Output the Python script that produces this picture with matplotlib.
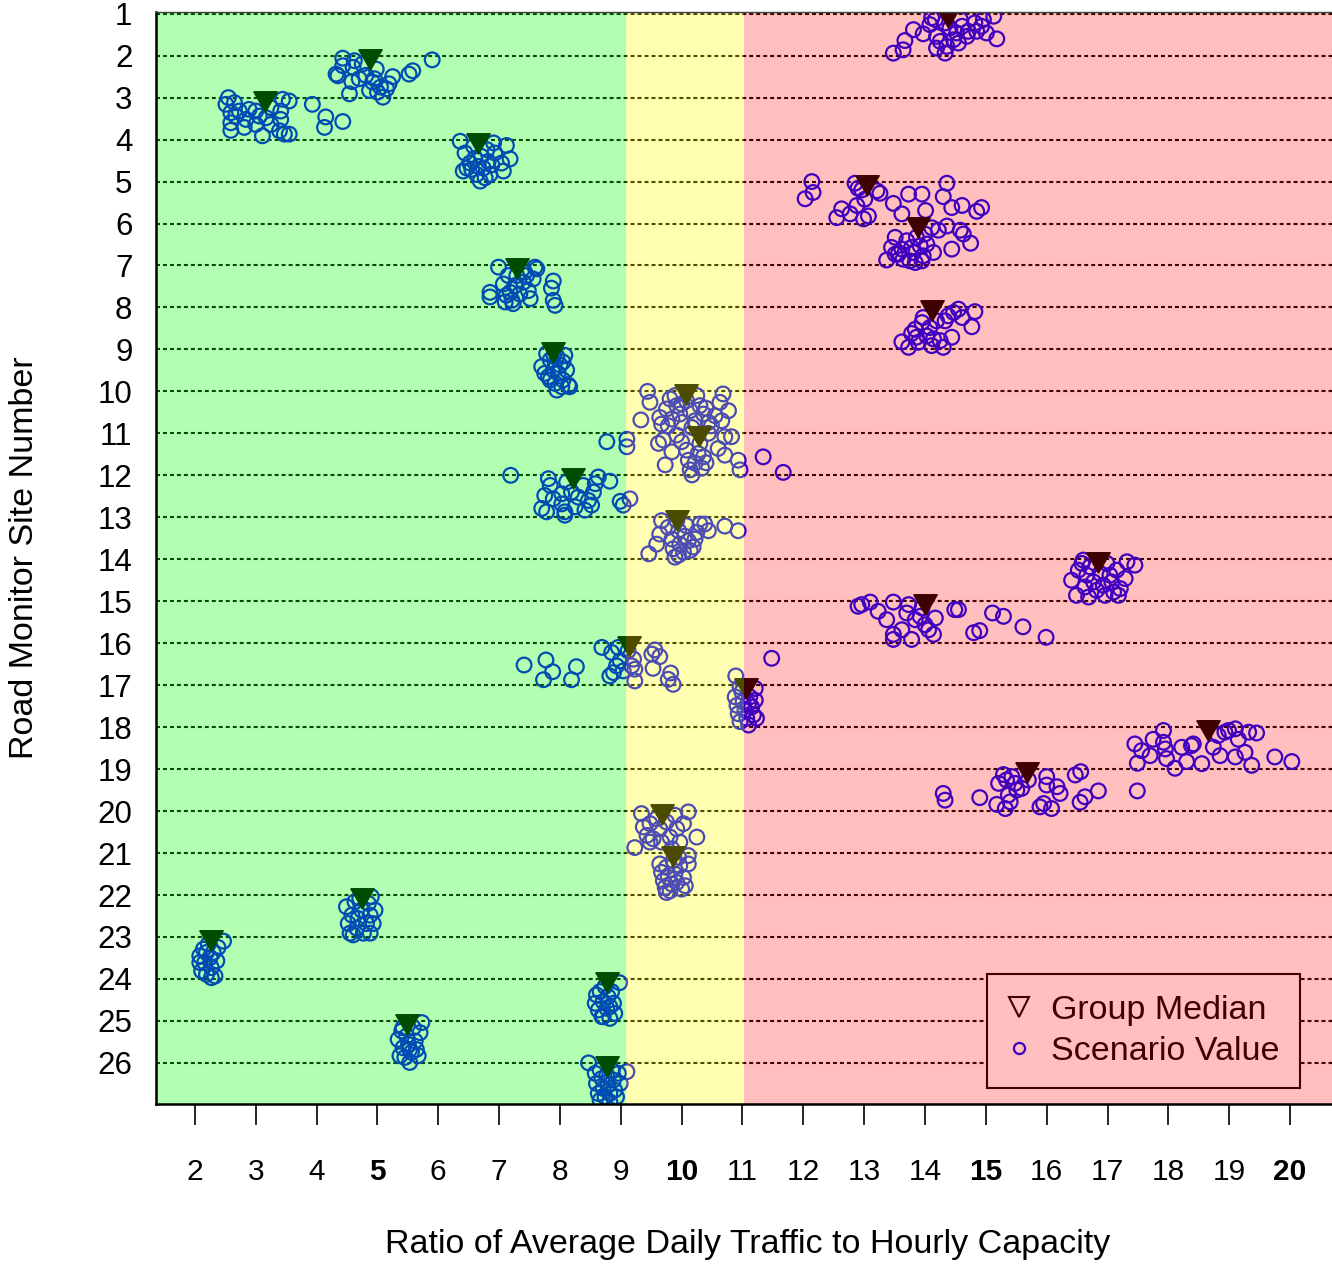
import matplotlib
matplotlib.use("Agg")
import matplotlib.pyplot as plt
from matplotlib.lines import Line2D
from matplotlib.markers import MarkerStyle

plt.rcParams['font.family'] = ['Liberation Sans', 'DejaVu Sans']

site_numbers = list(range(1, 27))
ratio_ticks = list(range(2, 21))
bold_ticks = [5, 10, 15, 20]

# Ratio thresholds separating the green / yellow / red bands
zone_edges = [9.08, 11.02]

group_median = [14.38, 4.88, 3.15, 6.66, 13.04, 13.89, 7.30, 14.11, 7.89, 10.07,
                10.29, 8.21, 9.93, 16.84, 14.00, 9.14, 11.06, 18.65, 15.67, 9.67,
                9.85, 4.74, 2.26, 8.78, 5.49, 8.78]

# Scenario values per site: (ratio, vertical jitter below the site line)
scenario_points = [
    # site 1
    [(13.48, 0.94), (13.64, 0.86), (13.67, 0.64), (13.81, 0.38), (13.97, 0.48), (14.11, 0.10),
     (14.08, 0.26), (14.19, 0.54), (14.19, 0.82), (14.25, 0.66), (14.33, 0.94), (14.36, 0.78),
     (14.41, 0.34), (14.47, 0.62), (14.52, 0.46), (14.55, 0.70), (14.58, 0.14), (14.61, 0.30),
     (14.69, 0.54), (14.71, 0.42), (14.82, 0.22), (14.85, 0.42), (14.93, 0.30), (15.01, 0.46),
     (15.13, 0.06), (15.18, 0.60), (14.33, 0.22), (14.17, 0.14), (14.96, 0.14)],
    # site 2
    [(4.43, 0.06), (4.32, 0.44), (4.35, 0.48), (4.43, 0.24), (4.58, 0.62), (4.54, 0.91),
     (4.62, 0.12), (4.70, 0.55), (4.60, 0.28), (4.81, 0.47), (4.87, 0.83), (4.98, 0.32),
     (4.92, 0.63), (5.00, 0.87), (5.09, 0.99), (5.15, 0.79), (5.19, 0.67), (5.25, 0.50),
     (5.52, 0.44), (5.58, 0.36), (5.90, 0.10), (4.75, 0.20), (5.05, 0.75), (4.95, 0.55)],
    # site 3
    [(2.55, 0.00), (2.51, 0.16), (2.65, 0.12), (2.59, 0.36), (2.67, 0.44), (2.59, 0.60),
     (2.59, 0.78), (2.81, 0.71), (2.89, 0.28), (2.84, 0.52), (3.00, 0.64), (3.06, 0.44),
     (3.11, 0.91), (3.17, 0.48), (3.25, 0.24), (3.25, 0.64), (3.41, 0.32), (3.41, 0.52),
     (3.39, 0.79), (3.44, 0.04), (3.55, 0.08), (3.47, 0.87), (3.55, 0.87), (3.93, 0.16),
     (4.15, 0.46), (4.13, 0.71), (4.43, 0.57), (3.00, 0.32), (2.73, 0.32)],
    # site 4
    [(6.36, 0.04), (6.44, 0.32), (6.41, 0.75), (6.52, 0.56), (6.58, 0.16), (6.63, 0.83),
     (6.69, 0.99), (6.71, 0.40), (6.74, 0.68), (6.80, 0.24), (6.85, 0.83), (6.82, 0.52),
     (6.91, 0.08), (6.93, 0.32), (7.04, 0.56), (7.07, 0.75), (7.12, 0.14), (7.18, 0.46),
     (6.55, 0.71), (6.66, 0.64), (6.77, 0.91), (6.47, 0.68), (6.60, 0.45), (6.88, 0.60)],
    # site 5
    [(12.14, 0.00), (12.16, 0.26), (12.03, 0.41), (12.63, 0.65), (12.55, 0.86), (12.77, 0.77),
     (12.85, 0.04), (12.88, 0.57), (12.96, 0.20), (12.99, 0.89), (13.01, 0.42), (13.07, 0.82),
     (13.21, 0.22), (13.26, 0.28), (12.90, 0.16), (13.48, 0.52), (13.73, 0.30), (13.95, 0.30),
     (13.62, 0.77), (14.01, 0.69), (14.36, 0.04), (14.30, 0.36), (14.44, 0.62), (14.61, 0.57),
     (14.85, 0.71), (14.93, 0.62)],
    # site 6
    [(13.37, 0.87), (13.45, 0.57), (13.51, 0.33), (13.56, 0.73), (13.62, 0.61), (13.64, 0.85),
     (13.70, 0.41), (13.75, 0.89), (13.81, 0.69), (13.84, 0.93), (13.86, 0.33), (13.92, 0.53),
     (13.97, 0.77), (14.00, 0.25), (14.03, 0.49), (14.11, 0.10), (14.14, 0.69), (14.22, 0.16),
     (14.36, 0.06), (14.44, 0.61), (14.58, 0.16), (14.63, 0.25), (14.75, 0.47), (13.51, 0.73),
     (13.78, 0.57), (13.95, 0.89)],
    # site 7
    [(6.99, 0.04), (6.85, 0.64), (6.85, 0.75), (7.07, 0.44), (7.10, 0.87), (7.15, 0.24),
     (7.18, 0.64), (7.21, 0.83), (7.26, 0.48), (7.29, 0.24), (7.34, 0.68), (7.40, 0.40),
     (7.42, 0.16), (7.48, 0.60), (7.51, 0.79), (7.56, 0.32), (7.59, 0.04), (7.62, 0.08),
     (7.89, 0.37), (7.86, 0.54), (7.89, 0.83), (7.92, 0.95), (7.23, 0.91), (7.12, 0.71),
     (7.45, 0.24)],
    # site 8
    [(13.62, 0.82), (13.73, 0.95), (13.78, 0.62), (13.84, 0.52), (13.89, 0.83), (13.95, 0.36),
     (13.97, 0.24), (14.03, 0.68), (14.08, 0.48), (14.14, 0.75), (14.19, 0.32), (14.25, 0.79),
     (14.30, 0.95), (14.33, 0.32), (14.38, 0.20), (14.44, 0.71), (14.47, 0.12), (14.55, 0.04),
     (14.61, 0.24), (14.77, 0.46), (14.82, 0.10), (13.86, 0.71), (14.11, 0.91)],
    # site 9
    [(7.70, 0.41), (7.78, 0.10), (7.81, 0.65), (7.84, 0.25), (7.89, 0.49), (7.92, 0.81),
     (7.95, 0.17), (7.97, 0.57), (8.00, 0.37), (8.03, 0.89), (8.05, 0.73), (8.08, 0.14),
     (8.11, 0.49), (8.14, 0.85), (8.16, 0.89), (7.84, 0.73), (7.75, 0.57), (7.95, 0.97),
     (8.05, 0.30), (7.90, 0.15)],
    # site 10
    [(9.44, 0.00), (9.48, 0.26), (9.33, 0.68), (9.64, 0.62), (9.67, 0.78), (9.75, 0.42),
     (9.81, 0.18), (9.84, 0.66), (9.89, 0.10), (9.92, 0.34), (9.97, 0.54), (10.00, 0.74),
     (10.08, 0.22), (10.14, 0.46), (10.22, 0.70), (10.25, 0.10), (10.30, 0.34), (10.36, 0.54),
     (10.44, 0.74), (10.49, 0.82), (10.55, 0.58), (10.63, 0.26), (10.66, 0.70), (10.68, 0.06),
     (10.77, 0.46), (9.78, 0.82), (10.17, 0.86), (10.00, 0.30), (10.40, 0.40)],
    # site 11
    [(8.77, 0.20), (9.10, 0.14), (9.10, 0.32), (9.62, 0.24), (9.70, 0.16), (9.73, 0.75),
     (9.84, 0.44), (9.92, 0.04), (10.08, 0.40), (10.11, 0.64), (10.14, 0.87), (10.17, 0.99),
     (10.22, 0.71), (10.27, 0.48), (10.30, 0.24), (10.33, 0.83), (10.36, 0.56), (10.60, 0.36),
     (10.71, 0.52), (10.71, 0.08), (10.82, 0.08), (10.93, 0.64), (10.96, 0.87), (11.34, 0.56),
     (11.67, 0.93), (10.44, 0.00), (10.00, 0.20), (10.40, 0.70)],
    # site 12
    [(7.19, 0.00), (7.81, 0.08), (7.70, 0.79), (7.75, 0.48), (7.78, 0.87), (7.84, 0.24),
     (7.89, 0.56), (8.03, 0.44), (8.03, 0.68), (8.08, 0.87), (8.11, 0.16), (8.19, 0.40),
     (8.25, 0.75), (8.30, 0.52), (8.38, 0.24), (8.41, 0.83), (8.47, 0.60), (8.52, 0.71),
     (8.55, 0.40), (8.58, 0.20), (8.63, 0.04), (8.82, 0.14), (8.99, 0.62), (9.04, 0.71),
     (9.15, 0.56), (8.08, 0.95)],
    # site 13
    [(9.46, 0.87), (9.59, 0.64), (9.64, 0.40), (9.67, 0.08), (9.78, 0.24), (9.84, 0.52),
     (9.86, 0.75), (9.89, 0.95), (9.95, 0.32), (9.97, 0.64), (10.03, 0.83), (10.08, 0.20),
     (10.11, 0.56), (10.14, 0.79), (10.19, 0.71), (10.22, 0.52), (10.25, 0.36), (10.30, 0.16),
     (10.38, 0.16), (10.44, 0.32), (10.71, 0.21), (10.93, 0.32), (9.92, 0.08), (9.95, 0.90),
     (10.05, 0.45)],
    # site 14
    [(16.41, 0.50), (16.49, 0.86), (16.52, 0.26), (16.58, 0.10), (16.63, 0.66), (16.66, 0.38),
     (16.69, 0.90), (16.71, 0.18), (16.77, 0.54), (16.82, 0.74), (16.88, 0.34), (16.93, 0.62),
     (16.96, 0.86), (16.99, 0.10), (17.04, 0.38), (17.07, 0.54), (17.10, 0.78), (17.18, 0.86),
     (17.21, 0.70), (17.29, 0.46), (17.32, 0.06), (17.45, 0.14), (16.60, 0.02), (17.15, 0.26)],
    # site 15
    [(12.90, 0.12), (12.96, 0.08), (13.10, 0.02), (13.23, 0.24), (13.37, 0.44), (13.48, 0.02),
     (13.48, 0.79), (13.48, 0.91), (13.62, 0.68), (13.70, 0.28), (13.73, 0.08), (13.78, 0.91),
     (13.84, 0.44), (13.92, 0.36), (14.00, 0.56), (14.06, 0.68), (14.14, 0.79), (14.17, 0.40),
     (14.49, 0.20), (14.55, 0.20), (14.80, 0.75), (14.90, 0.70), (15.11, 0.28), (15.29, 0.36),
     (15.61, 0.61), (15.99, 0.86), (13.95, 0.16)],
    # site 16
    [(7.41, 0.52), (7.77, 0.40), (7.73, 0.87), (7.88, 0.68), (8.19, 0.87), (8.27, 0.56),
     (8.69, 0.10), (8.85, 0.22), (8.82, 0.78), (8.88, 0.70), (8.96, 0.10), (8.99, 0.42),
     (9.04, 0.66), (9.12, 0.18), (9.21, 0.38), (9.23, 0.62), (9.23, 0.90), (9.51, 0.26),
     (9.56, 0.16), (9.64, 0.32), (9.53, 0.60), (9.78, 0.86), (9.82, 0.71), (9.86, 0.98),
     (9.18, 0.54), (8.93, 0.54), (10.89, 0.78), (11.48, 0.36)],
    # site 17
    [(10.88, 0.28), (10.91, 0.48), (10.93, 0.68), (10.96, 0.87), (10.99, 0.16), (11.01, 0.40),
     (11.04, 0.60), (11.07, 0.79), (11.10, 0.95), (11.12, 0.28), (11.15, 0.52), (11.18, 0.71),
     (11.21, 0.08), (11.23, 0.79), (11.21, 0.36), (10.96, 0.04), (11.10, 0.44)],
    # site 18
    [(17.45, 0.40), (17.49, 0.86), (17.56, 0.56), (17.70, 0.68), (17.75, 0.29), (17.92, 0.08),
     (17.92, 0.36), (17.95, 0.52), (17.97, 0.75), (18.11, 0.98), (18.22, 0.48), (18.30, 0.82),
     (18.38, 0.44), (18.41, 0.40), (18.55, 0.87), (18.74, 0.48), (18.82, 0.20), (18.85, 0.68),
     (18.93, 0.12), (18.99, 0.08), (19.10, 0.04), (19.15, 0.29), (19.10, 0.71), (19.26, 0.60),
     (19.32, 0.12), (19.37, 0.91), (19.45, 0.14), (19.75, 0.71), (20.03, 0.82)],
    # site 19
    [(14.30, 0.58), (14.33, 0.74), (14.90, 0.68), (15.18, 0.84), (15.21, 0.34), (15.29, 0.13),
     (15.34, 0.26), (15.37, 0.62), (15.40, 0.78), (15.48, 0.34), (15.51, 0.50), (15.59, 0.46),
     (15.70, 0.26), (15.89, 0.90), (15.95, 0.82), (16.00, 0.18), (16.00, 0.38), (16.08, 0.94),
     (16.17, 0.42), (16.22, 0.58), (16.47, 0.14), (16.56, 0.06), (16.55, 0.79), (16.63, 0.66),
     (16.85, 0.52), (17.49, 0.52), (15.32, 0.94), (15.43, 0.18)],
    # site 20
    [(9.23, 0.87), (9.34, 0.06), (9.37, 0.38), (9.43, 0.58), (9.48, 0.30), (9.53, 0.66),
     (9.59, 0.18), (9.64, 0.42), (9.67, 0.74), (9.75, 0.26), (9.81, 0.62), (9.89, 0.10),
     (9.92, 0.42), (9.97, 0.74), (10.03, 0.30), (10.11, 0.02), (10.25, 0.62), (9.48, 0.74),
     (9.84, 0.90)],
    # site 21
    [(9.64, 0.26), (9.67, 0.46), (9.70, 0.66), (9.73, 0.82), (9.75, 0.34), (9.78, 0.58),
     (9.81, 0.90), (9.84, 0.74), (9.86, 0.18), (9.89, 0.50), (9.92, 0.70), (9.97, 0.30),
     (10.00, 0.86), (10.03, 0.58), (10.06, 0.78), (10.11, 0.06), (10.11, 0.26), (9.95, 0.10),
     (9.75, 0.94)],
    # site 22
    [(4.49, 0.28), (4.52, 0.68), (4.55, 0.91), (4.58, 0.48), (4.63, 0.16), (4.66, 0.79),
     (4.68, 0.56), (4.74, 0.36), (4.77, 0.91), (4.82, 0.68), (4.85, 0.20), (4.88, 0.48),
     (4.88, 0.91), (4.90, 0.04), (4.96, 0.36), (4.93, 0.68), (4.60, 0.95), (4.71, 0.08)],
    # site 23
    [(2.08, 0.45), (2.11, 0.81), (2.14, 0.29), (2.16, 0.61), (2.19, 0.89), (2.22, 0.17),
     (2.25, 0.49), (2.27, 0.73), (2.30, 0.37), (2.33, 0.93), (2.36, 0.57), (2.38, 0.25),
     (2.47, 0.10), (2.08, 0.61), (2.19, 0.37), (2.27, 0.97)],
    # site 24
    [(8.58, 0.58), (8.60, 0.38), (8.63, 0.74), (8.66, 0.30), (8.69, 0.90), (8.71, 0.54),
     (8.74, 0.18), (8.77, 0.70), (8.79, 0.42), (8.82, 0.94), (8.85, 0.30), (8.88, 0.58),
     (8.90, 0.82), (8.98, 0.09), (8.71, 0.90), (8.82, 0.66)],
    # site 25
    [(5.34, 0.44), (5.37, 0.83), (5.40, 0.24), (5.42, 0.64), (5.45, 0.87), (5.48, 0.36),
     (5.51, 0.56), (5.53, 0.99), (5.56, 0.75), (5.59, 0.16), (5.62, 0.48), (5.64, 0.68),
     (5.67, 0.83), (5.70, 0.28), (5.73, 0.04), (5.42, 0.16), (5.53, 0.68)],
    # site 26
    [(8.47, 0.00), (8.58, 0.25), (8.60, 0.49), (8.63, 0.73), (8.66, 0.17), (8.69, 0.37),
     (8.71, 0.61), (8.74, 0.81), (8.77, 0.29), (8.79, 0.53), (8.82, 0.73), (8.85, 0.17),
     (8.88, 0.41), (8.90, 0.65), (8.93, 0.81), (8.96, 0.25), (8.99, 0.49), (9.10, 0.21),
     (8.66, 0.89), (8.82, 0.93)],
]

W, H = 1332, 1265
fig = plt.figure(figsize=(W / 100, H / 100), dpi=100)
fig.patch.set_facecolor('white')
ax = fig.add_axes([156 / W, 1 - 1104 / H, 1 - 156 / W, (1104 - 12) / H])
ax.set_facecolor('white')

xmin, xmax = 1.36, 20.69
ax.set_xlim(xmin, xmax)
ax.set_ylim(26.98, 0.96)

# dotted guide at every site
for s in site_numbers:
    ax.axhline(s, color='black', lw=1.5, ls=(0, (1.9, 1.45)), zorder=1)

# individual scenario values
for s, pts in zip(site_numbers, scenario_points):
    xs = [p[0] for p in pts]
    ys = [s + p[1] for p in pts]
    ax.scatter(xs, ys, s=112, facecolors='none', edgecolors='#0000ff',
               linewidths=1.6, zorder=3)

# downward triangle whose centroid sits on the data point
tri = MarkerStyle([(-0.866, 0.5), (0.866, 0.5), (0.0, -1.0), (-0.866, 0.5)])
ax.plot(group_median, site_numbers, ls='none', marker=tri, ms=19.5,
        color='black', mec='black', zorder=4)

# legend
handles = [
    Line2D([], [], ls='none', marker='v', ms=14, mfc='none', mec='black', mew=1.5),
    Line2D([], [], ls='none', marker='o', ms=8, mfc='none', mec='#0000ff', mew=1.6),
]
leg = ax.legend(handles, ['Group Median', 'Scenario Value'], loc='lower left',
                bbox_to_anchor=(0.7066, 0.0147), borderaxespad=0, fontsize=24.5,
                frameon=True, fancybox=False, edgecolor='black', facecolor='white',
                framealpha=1, borderpad=0.62, handletextpad=0.6, labelspacing=0.28,
                handlelength=0.65)
leg.get_frame().set_linewidth(1.5)
leg.set_zorder(5)

# translucent capacity bands laid over everything inside the axes
ax.axvspan(xmin, zone_edges[0], facecolor=(0, 1, 0), alpha=0.3, lw=0, zorder=10)
ax.axvspan(zone_edges[0], zone_edges[1], facecolor=(1, 1, 0), alpha=0.3, lw=0, zorder=10)
ax.axvspan(zone_edges[1], xmax, facecolor=(1, 0, 0), alpha=0.25, lw=0, zorder=10)

# axes frame
for side in ('left', 'bottom'):
    ax.spines[side].set_linewidth(1.8)
    ax.spines[side].set_color('black')
    ax.spines[side].set_zorder(11)
ax.spines['top'].set_linewidth(1.0)
ax.spines['top'].set_color('#444444')
ax.spines['top'].set_zorder(11)
ax.spines['right'].set_visible(False)

ax.set_xticks(ratio_ticks)
ax.set_xticklabels([str(t) for t in ratio_ticks])
for lbl, t in zip(ax.get_xticklabels(), ratio_ticks):
    if t in bold_ticks:
        lbl.set_fontweight('bold')
ax.tick_params(axis='x', direction='out', length=15, width=1.2, pad=24,
               labelsize=21.5, colors='black')
ax.set_yticks(site_numbers)
ax.set_yticklabels([str(s) for s in site_numbers])
ax.tick_params(axis='y', length=0, pad=17, labelsize=22.5)

fig.text(748 / W, 1 - 1245 / H, 'Ratio of Average Daily Traffic to Hourly Capacity',
         ha='center', va='center', fontsize=24.5)
fig.text(25 / W, 1 - 558 / H, 'Road Monitor Site Number', rotation=90,
         ha='center', va='center', fontsize=24.5)

fig.savefig('out.png', dpi=100)
